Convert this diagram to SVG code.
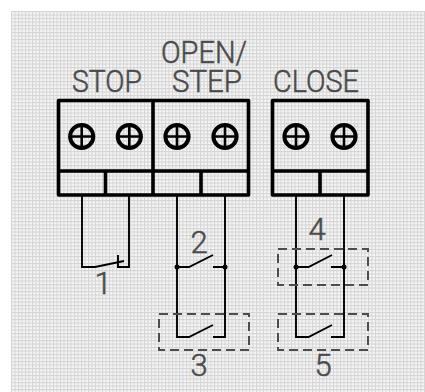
<svg xmlns="http://www.w3.org/2000/svg" width="425" height="392" viewBox="0 0 425 392">
<style>
.box{fill:none;stroke:#000;stroke-width:3.6;stroke-linejoin:round}
.scr{fill:none;stroke:#000;stroke-width:4}
.x{stroke:#000;stroke-width:2.600;fill:none}
.w{fill:none;stroke:#000;stroke-width:1.900}
.d{fill:none;stroke:#4d4d4d;stroke-width:2;stroke-dasharray:9 5}
.t{font-family:"Roboto","Liberation Sans",sans-serif;font-weight:300;font-size:31px;fill:#4a4a4a;stroke:#4a4a4a;stroke-width:.5}
.n{fill:#000}
</style>
<defs>
<pattern id="g" x="11" y="11" width="3.5" height="3.5" patternUnits="userSpaceOnUse">
<rect width="3.5" height="3.5" fill="#f6f6f6"/>
<path d="M0 .5H3.5M.5 0V3.5" stroke="#d4d4d4" stroke-width="1"/>
</pattern>
<g id="s"><circle r="11.600" class="scr"/><path d="M-11 0H11M0-11V11" class="x"/></g>
</defs>
<rect width="425" height="392" fill="#fff"/>
<rect x="11" y="11" width="414" height="381" fill="url(#g)"/>
<g id="connectors">
<path class="w" d="M82 195V267H95L124 261M118 255V267H129V195"/>
<path class="w" d="M177 195V337H189L213 325M213 337H225V195"/>
<path class="w" d="M177 267H189L213 255M213 267H225"/>
<path class="w" d="M296 195V337H308.500L332 325M331 337H344V195"/>
<path class="w" d="M296 267H308.500L332 255M331 267H344"/>
<circle class="n" cx="177" cy="267" r="2.500"/><circle class="n" cx="225" cy="267" r="2.500"/>
<circle class="n" cx="296" cy="267" r="2.500"/><circle class="n" cx="344" cy="267" r="2.500"/>
</g>
<g id="terminal-left">
<path class="box" d="M58.500 100.500H248.500V195H58.500ZM58.500 171H248.500M153 100.500V195M105.500 171V195M201 171V195"/>
<use href="#s" x="81.700" y="136.500"/><use href="#s" x="129.300" y="136.500"/><use href="#s" x="177" y="136.500"/><use href="#s" x="225" y="136.500"/>
</g>
<g id="terminal-right">
<path class="box" d="M272.500 100.500H368V195H272.500ZM272.500 171H368M320 171V195"/>
<use href="#s" x="296" y="136.500"/><use href="#s" x="344" y="136.500"/>
</g>
<g id="zone-3"><rect class="d" x="159" y="314" width="90" height="36"/></g>
<g id="zone-4"><rect class="d" x="278" y="249" width="90" height="36"/></g>
<g id="zone-5"><rect class="d" x="278" y="314" width="90" height="36"/></g>
<g id="labels">
<text class="t" x="72" y="92" textLength="70" lengthAdjust="spacingAndGlyphs">STOP</text>
<text class="t" x="161" y="63" textLength="86" lengthAdjust="spacingAndGlyphs">OPEN/</text>
<text class="t" x="172" y="92" textLength="70" lengthAdjust="spacingAndGlyphs">STEP</text>
<text class="t" x="273" y="92" textLength="86" lengthAdjust="spacingAndGlyphs">CLOSE</text>
<text class="t" x="103" y="294" text-anchor="middle">1</text>
<text class="t" x="199" y="253" text-anchor="middle">2</text>
<text class="t" x="199" y="376" text-anchor="middle">3</text>
<text class="t" x="317" y="240" text-anchor="middle">4</text>
<text class="t" x="323" y="376" text-anchor="middle">5</text>
</g>
</svg>
